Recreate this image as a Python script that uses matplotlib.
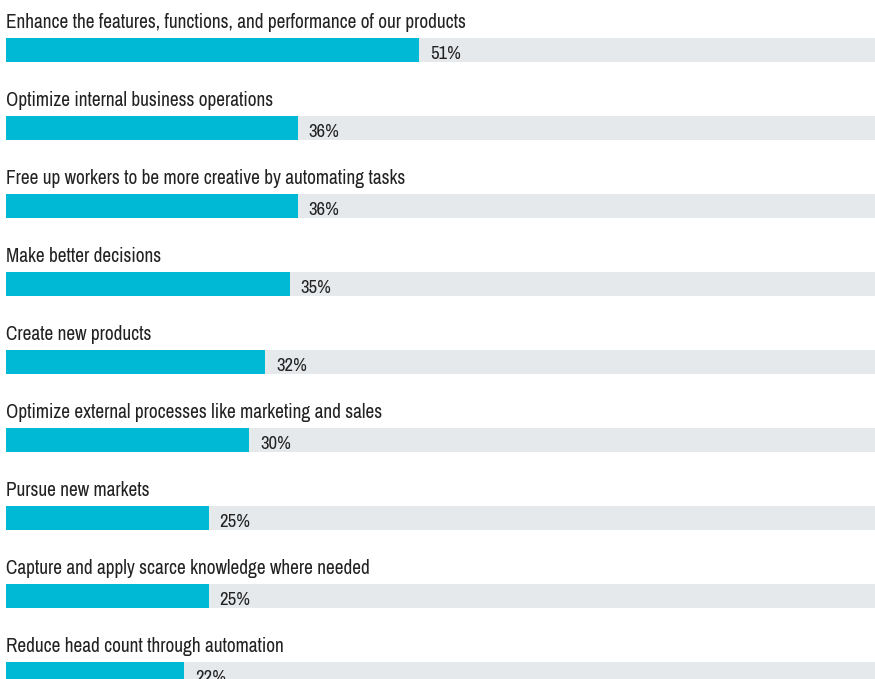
import matplotlib.pyplot as plt
import numpy as np

categories = [
    "Enhance the features, functions, and performance of our products",
    "Optimize internal business operations",
    "Free up workers to be more creative by automating tasks",
    "Make better decisions",
    "Create new products",
    "Optimize external processes like marketing and sales",
    "Pursue new markets",
    "Capture and apply scarce knowledge where needed",
    "Reduce head count through automation",
]
values = [51, 36, 36, 35, 32, 30, 25, 25, 22]

plt.rcParams['font.family'] = ['Archivo Narrow', 'DejaVu Sans']

fig = plt.figure(figsize=(8.75, 6.79), dpi=100)
ax = fig.add_axes([0, 0, 1, 1])

# one row = 78 px, bar 24 px thick, 8.1 px per percent
y = np.arange(len(categories))
xmax = 869 / 8.1
ax.barh(y, [xmax] * len(y), height=24 / 78, left=0, color='#E6E9EC')
ax.barh(y, values, height=24 / 78, left=0, color='#00B9D5')

for i, (c, v) in enumerate(zip(categories, values)):
    ax.text(0, i - 27.5 / 78, c, ha='left', va='center', fontsize=13.9, color='#222222')
    ax.text(v + 1.35, i + 0.05, f"{v}%", ha='left', va='center', fontsize=13.5, color='#222222')

ax.set_xlim(-6 / 8.1, xmax)
ax.set_ylim((679 - 50) / 78, -50 / 78)
ax.axis('off')

fig.savefig('out.png', dpi=100)
